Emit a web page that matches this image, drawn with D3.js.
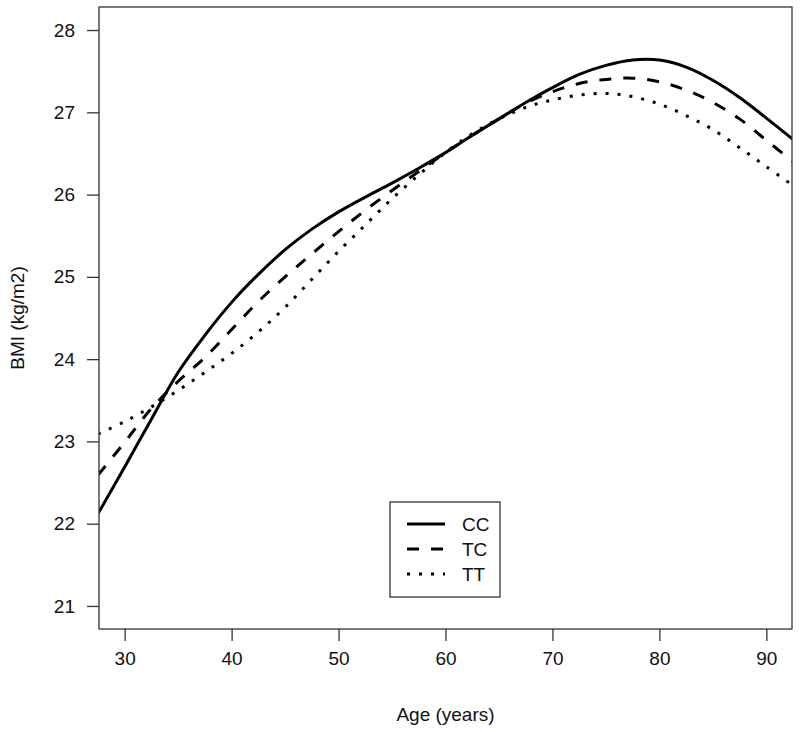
<!DOCTYPE html>
<html>
<head>
<meta charset="utf-8">
<script src="https://cdn.jsdelivr.net/npm/d3@7"></script>
<style>
  body { margin: 0; background: #fff; }
  text { font-family: "Liberation Sans", Arial, sans-serif; fill: #111; }
</style>
</head>
<body>
<svg width="800" height="732"></svg>
<script>
var ages = [27.5, 30, 32.5, 35, 37.5, 40, 42.5, 45, 47.5, 50, 52.5, 55, 57.5, 60,
            62.5, 65, 67.5, 70, 72.5, 75, 77.5, 80, 82.5, 85, 87.5, 90, 92.5];

var cc = [22.12, 22.69, 23.27, 23.84, 24.29, 24.69, 25.03, 25.33, 25.58, 25.79, 25.97, 26.14, 26.32, 26.51,
          26.72, 26.92, 27.12, 27.30, 27.46, 27.57, 27.635, 27.635, 27.55, 27.39, 27.18, 26.93, 26.67];
var tc = [22.59, 22.99, 23.40, 23.73, 24.02, 24.36, 24.70, 25.00, 25.28, 25.55, 25.81, 26.05, 26.28, 26.51,
          26.72, 26.92, 27.11, 27.25, 27.35, 27.40, 27.415, 27.37, 27.27, 27.12, 26.92, 26.66, 26.40];
var tt = [23.09, 23.24, 23.42, 23.62, 23.84, 24.07, 24.33, 24.63, 24.97, 25.31, 25.63, 25.95, 26.24, 26.51,
          26.74, 26.92, 27.06, 27.15, 27.21, 27.23, 27.19, 27.10, 26.96, 26.79, 26.57, 26.34, 26.11];

var genotypes = ["CC", "TC", "TT"];
var xTicks = [30, 40, 50, 60, 70, 80, 90];
var yTicks = [21, 22, 23, 24, 25, 26, 27, 28];

var svg = d3.select("svg");
var plotLeft = 99, plotRight = 792, plotTop = 7, plotBottom = 629;
var fontSize = 19;

// R style 4% padding around xlim=c(30,90), ylim=c(21,28)
var x = d3.scaleLinear().domain([30 - 60 * 0.04, 90 + 60 * 0.04]).range([plotLeft, plotRight]);
var y = d3.scaleLinear().domain([21 - 7 * 0.04, 28 + 7 * 0.04]).range([plotBottom, plotTop]);

var dashes = { CC: null, TC: "12,12", TT: "3,9" };
var seriesData = { CC: cc, TC: tc, TT: tt };

svg.append("clipPath").attr("id", "plotclip")
  .append("rect")
    .attr("x", plotLeft).attr("y", plotTop)
    .attr("width", plotRight - plotLeft).attr("height", plotBottom - plotTop);

var line = d3.line()
    .x(function(d) { return x(d[0]); })
    .y(function(d) { return y(d[1]); })
    .curve(d3.curveCatmullRom.alpha(0.5));

var lines = svg.append("g").attr("clip-path", "url(#plotclip)");
genotypes.forEach(function(g) {
  lines.append("path")
    .datum(ages.map(function(a, i) { return [a, seriesData[g][i]]; }))
    .attr("fill", "none")
    .attr("stroke", "#000")
    .attr("stroke-width", 3)
    .attr("stroke-dasharray", dashes[g])
    .attr("d", line);
});

// box
svg.append("rect")
  .attr("x", plotLeft).attr("y", plotTop)
  .attr("width", plotRight - plotLeft).attr("height", plotBottom - plotTop)
  .attr("fill", "none").attr("stroke", "#333").attr("stroke-width", 1.3);

// x axis
var xAxis = d3.axisBottom(x).tickValues(xTicks).tickSize(12).tickPadding(11).tickFormat(d3.format("d"));
var gx = svg.append("g").attr("transform", "translate(0," + plotBottom + ")").call(xAxis);
gx.select(".domain").remove();
gx.selectAll("line").attr("stroke", "#333").attr("stroke-width", 1.3);
gx.selectAll("text").attr("font-size", fontSize).attr("font-family", "Liberation Sans, Arial, sans-serif").attr("fill", "#111");

// y axis
var yAxis = d3.axisLeft(y).tickValues(yTicks).tickSize(12).tickPadding(12).tickFormat(d3.format("d"));
var gy = svg.append("g").attr("transform", "translate(" + plotLeft + ",0)").call(yAxis);
gy.select(".domain").remove();
gy.selectAll("line").attr("stroke", "#333").attr("stroke-width", 1.3);
gy.selectAll("text").attr("font-size", fontSize).attr("font-family", "Liberation Sans, Arial, sans-serif").attr("fill", "#111");

// titles
svg.append("text")
  .attr("x", (plotLeft + plotRight) / 2).attr("y", 721)
  .attr("text-anchor", "middle").attr("font-size", fontSize)
  .text("Age (years)");

svg.append("text")
  .attr("transform", "translate(24," + (plotTop + plotBottom) / 2 + ") rotate(-90)")
  .attr("text-anchor", "middle").attr("font-size", fontSize)
  .text("BMI (kg/m2)");

// legend
var legend = svg.append("g");
legend.append("rect")
  .attr("x", 390).attr("y", 502).attr("width", 110).attr("height", 95)
  .attr("fill", "#fff").attr("stroke", "#333").attr("stroke-width", 1.3);

var legendY = d3.scalePoint().domain(genotypes).range([524, 574]);
genotypes.forEach(function(g) {
  legend.append("line")
    .attr("x1", 407).attr("x2", 445)
    .attr("y1", legendY(g)).attr("y2", legendY(g))
    .attr("stroke", "#000").attr("stroke-width", 3)
    .attr("stroke-dasharray", dashes[g]);
  legend.append("text")
    .attr("x", 462).attr("y", legendY(g) + 7)
    .attr("font-size", fontSize)
    .text(g);
});
</script>
</body>
</html>
